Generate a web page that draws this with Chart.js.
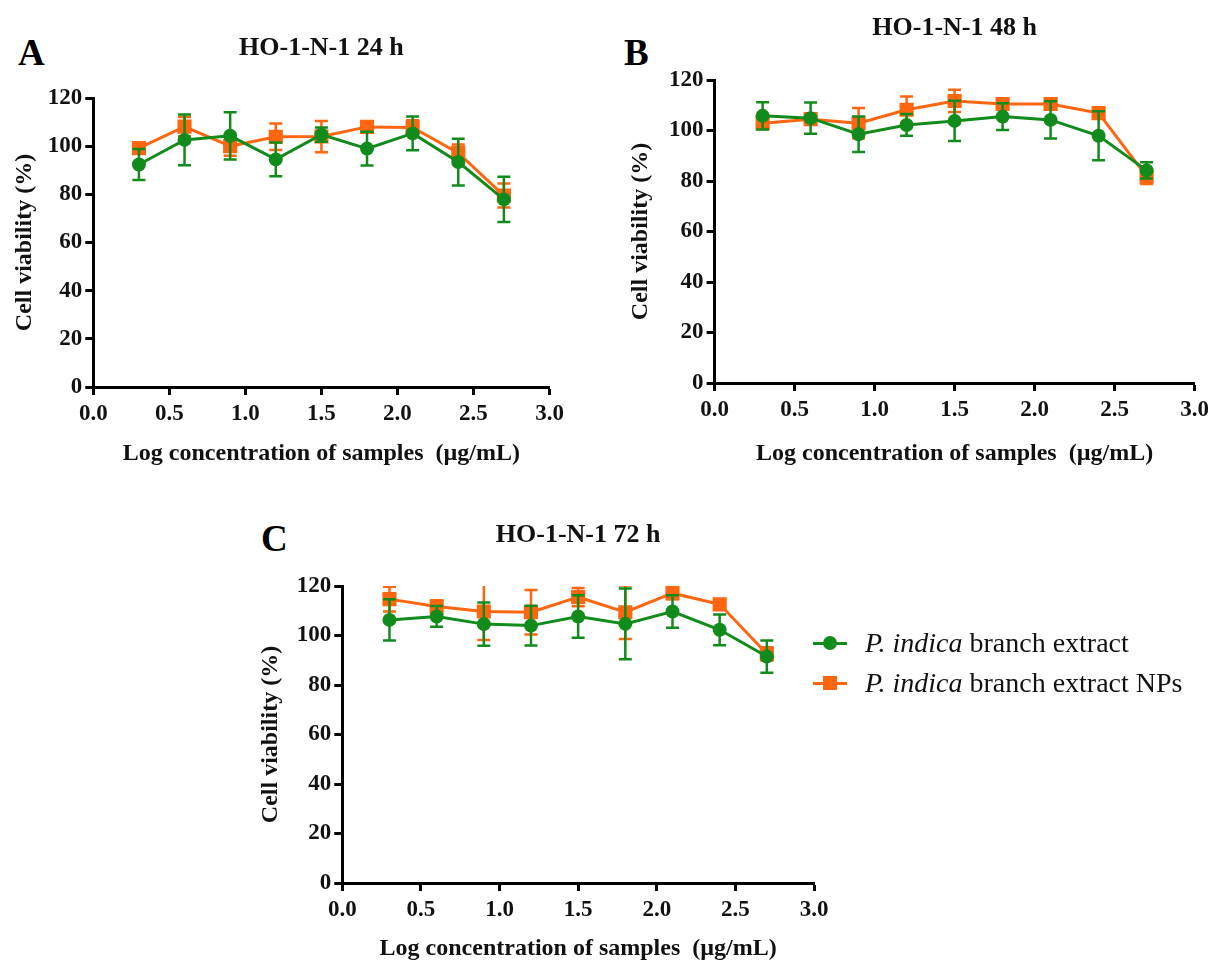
<!DOCTYPE html>
<html>
<head>
<meta charset="utf-8">
<script src="https://cdn.jsdelivr.net/npm/chart.js@4.4.1/dist/chart.umd.min.js"></script>
<style>
  html, body { margin: 0; padding: 0; background: #fff; }
  body { width: 1208px; height: 963px; position: relative; overflow: hidden; font-family: "Liberation Serif", "DejaVu Serif", serif; color: #000; }
  .box { position: absolute; }
  .letter { position: absolute; font-weight: bold; font-size: 37px; line-height: 1; }
  .leg { position: absolute; left: 813px; height: 34px; display: flex; align-items: center; font-size: 28px; color: #111; white-space: nowrap; }
  .mk { position: relative; width: 34px; height: 3px; margin-right: 18px; }
  .mk span { position: absolute; left: 50%; top: 50%; transform: translate(-50%, -50%); }
  .mk.g { background: #118b1b; }
  .mk.g span { width: 14px; height: 14px; border-radius: 50%; background: #118b1b; }
  .mk.o { background: #ff6610; }
  .mk.o span { width: 14px; height: 14px; background: #ff6610; }
</style>
</head>
<body>
<div class="letter" style="left:18px;top:34px;">A</div>
<div class="letter" style="left:624px;top:34px;">B</div>
<div class="letter" style="left:261px;top:520px;">C</div>

<div class="box" style="left:0px;top:0px;width:600px;height:470px;"><canvas id="chartA"></canvas></div>
<div class="box" style="left:600px;top:0px;width:608px;height:470px;"><canvas id="chartB"></canvas></div>
<div class="box" style="left:250px;top:500px;width:600px;height:463px;"><canvas id="chartC"></canvas></div>

<div class="leg" style="top:626px;"><div class="mk g"><span></span></div><span><i>P. indica</i> branch extract</span></div>
<div class="leg" style="top:666px;"><div class="mk o"><span></span></div><span><i>P. indica</i> branch extract NPs</span></div>

<script>
// ---------- data ----------
const xValues = [0.3, 0.6, 0.9, 1.2, 1.5, 1.8, 2.1, 2.4, 2.7];
const xTickValues = [0, 0.5, 1.0, 1.5, 2.0, 2.5, 3.0];
const yTickValues = [0, 20, 40, 60, 80, 100, 120];
const seriesNames = ['P. indica branch extract', 'P. indica branch extract NPs'];
const chartTitles = ['HO-1-N-1 24 h', 'HO-1-N-1 48 h', 'HO-1-N-1 72 h'];
const xAxisTitle = 'Log concentration of samples  (\u00b5g/mL)';
const yAxisTitle = 'Cell viability (%)';

const extract24    = [92.4, 102.6, 104.3, 94.5, 104.8, 99.0, 105.3, 93.4, 77.9];
const extract24Err = [6.4, 10.5, 9.8, 7.0, 3.0, 7.0, 7.0, 9.7, 9.4];
const nps24        = [99.2, 108.1, 100.0, 103.9, 104.0, 108.0, 107.8, 97.2, 79.5];
const nps24Err     = [2.0, 4.0, 4.0, 5.5, 6.5, 1.0, 3.0, 3.5, 5.0];

const extract48    = [105.8, 104.9, 98.5, 102.2, 103.8, 105.5, 104.2, 97.9, 84.2];
const extract48Err = [5.4, 6.2, 7.0, 4.3, 8.0, 5.3, 7.4, 9.7, 3.2];
const nps48        = [102.9, 104.5, 102.9, 108.2, 111.7, 110.5, 110.5, 106.9, 81.8];
const nps48Err     = [2.0, 1.5, 6.0, 5.3, 4.4, 1.5, 1.5, 1.5, 3.0];

const extract72    = [106.3, 107.7, 104.6, 104.0, 107.7, 104.7, 109.7, 102.3, 91.5];
const extract72Err = [8.3, 4.2, 8.7, 8.0, 8.6, 14.3, 6.6, 6.2, 6.5];
const nps72        = [114.7, 111.7, 109.7, 109.4, 115.5, 109.4, 117.1, 112.6, 92.6];
const nps72Err     = [5.0, 2.5, 11.5, 9.0, 3.7, 10.8, 2.5, 1.0, 2.7];

// ---------- styles ----------
const GREEN = '#118b1b';
const ORANGE = '#ff6610';
const FONT = '"Liberation Serif", "DejaVu Serif", serif';

const errorBars = {
  id: 'errorBars',
  afterDatasetDraw(chart, args) {
    const ds = chart.data.datasets[args.index];
    if (!ds.errors) return;
    const {ctx, chartArea} = chart;
    const xs = chart.scales.x, ys = chart.scales.y;
    ctx.save();
    ctx.beginPath();
    ctx.rect(chartArea.left - 30, chartArea.top, chartArea.width + 60, chartArea.height + 30);
    ctx.clip();
    ctx.strokeStyle = ds.borderColor;
    ctx.lineWidth = 2.5;
    ds.data.forEach((pt, i) => {
      const e = ds.errors[i];
      const px = xs.getPixelForValue(pt.x);
      const t = ys.getPixelForValue(pt.y + e);
      const b = ys.getPixelForValue(pt.y - e);
      ctx.beginPath();
      ctx.moveTo(px, t); ctx.lineTo(px, b);
      ctx.moveTo(px - 6.5, t); ctx.lineTo(px + 6.5, t);
      ctx.moveTo(px - 6.5, b); ctx.lineTo(px + 6.5, b);
      ctx.stroke();
    });
    ctx.restore();
  }
};

function pts(vals) { return xValues.map((x, i) => ({x: x, y: vals[i]})); }

function makeChart(id, title, ext, extErr, np, npErr, g) {
  return new Chart(document.getElementById(id), {
    type: 'line',
    data: {
      datasets: [
        { label: seriesNames[0], data: pts(ext), errors: extErr, borderColor: GREEN, backgroundColor: GREEN,
          borderWidth: 3, pointStyle: 'circle', pointRadius: 7, pointBorderWidth: 0, tension: 0 },
        { label: seriesNames[1], data: pts(np), errors: npErr, borderColor: ORANGE, backgroundColor: ORANGE,
          borderWidth: 3, pointStyle: 'rect', pointRadius: 10, pointBorderWidth: 0, tension: 0 }
      ]
    },
    options: {
      responsive: true, maintainAspectRatio: false, animation: false,
      layout: { padding: { left: 0, right: g.padRight, top: 0, bottom: 0 } },
      plugins: {
        legend: { display: false },
        tooltip: { enabled: false },
        title: { display: true, text: title, fullSize: false, color: '#111',
          font: { family: FONT, size: 26, weight: 'bold', lineHeight: 1.2 },
          padding: { top: g.titleTop, bottom: g.titleBottom } }
      },
      scales: {
        x: {
          type: 'linear', min: 0, max: 3,
          afterBuildTicks: s => { s.ticks = xTickValues.map(v => ({value: v})); },
          afterFit: s => { s.height = g.xAxisH; s.paddingLeft = 0; s.paddingRight = 0; },
          ticks: { color: '#111', padding: 5, maxRotation: 0, autoSkip: false,
            font: { family: FONT, size: 23, weight: 'bold' }, callback: v => Number(v).toFixed(1) },
          grid: { display: true, drawOnChartArea: false, drawTicks: true, tickLength: 8, tickWidth: 3, tickColor: '#000' },
          border: { display: true, color: '#000', width: 3 },
          title: { display: true, text: xAxisTitle, color: '#111',
            font: { family: FONT, size: 24, weight: 'bold', lineHeight: 1.2 }, padding: { top: 0, bottom: g.xTitlePad } }
        },
        y: {
          min: 0, max: 120,
          afterBuildTicks: s => { s.ticks = yTickValues.map(v => ({value: v})); },
          afterFit: s => { s.width = g.yAxisW; s.paddingTop = 0; s.paddingBottom = 0; },
          ticks: { color: '#111', padding: 3, font: { family: FONT, size: 23, weight: 'bold' } },
          grid: { display: true, drawOnChartArea: false, drawTicks: true, tickLength: 8, tickWidth: 3, tickColor: '#000' },
          border: { display: true, color: '#000', width: 3 },
          title: { display: true, text: yAxisTitle, color: '#111',
            font: { family: FONT, size: 24, weight: 'bold', lineHeight: 1.2 }, padding: { top: g.yTitlePad, bottom: 0 } }
        }
      }
    },
    plugins: [errorBars]
  });
}

makeChart('chartA', chartTitles[0], extract24, extract24Err, nps24, nps24Err,
  { padRight: 50.5, titleTop: 32.4, titleBottom: 34.4, xAxisH: 83, yAxisW: 93.3, xTitlePad: 2, yTitlePad: 10 });
makeChart('chartB', chartTitles[1], extract48, extract48Err, nps48, nps48Err,
  { padRight: 13.4, titleTop: 12.4, titleBottom: 36.4, xAxisH: 87, yAxisW: 114.6, xTitlePad: 2, yTitlePad: 26 });
makeChart('chartC', chartTitles[2], extract72, extract72Err, nps72, nps72Err,
  { padRight: 36, titleTop: 19.4, titleBottom: 35.4, xAxisH: 80, yAxisW: 92.3, xTitlePad: 0, yTitlePad: 6 });
</script>
</body>
</html>
